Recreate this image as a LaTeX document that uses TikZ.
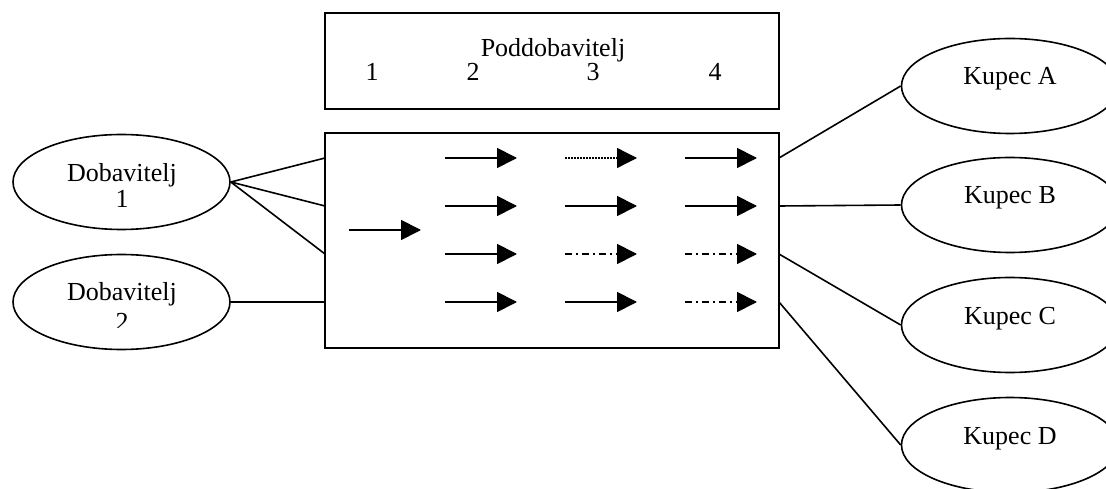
\documentclass[tikz,border=0pt]{standalone}
\usepackage{fontspec}
\setmainfont{Liberation Serif}
\usetikzlibrary{arrows.meta,shapes.geometric}
\begin{document}
\begin{tikzpicture}[x=1pt,y=-1pt,
  every node/.style={font=\fontsize{26}{26}\selectfont},
  party/.style={draw,ellipse,line width=1.6pt,minimum width=217pt,minimum height=95pt,inner sep=0pt},
  panel/.style={draw,line width=1.8pt,inner sep=0pt},
  word/.style={anchor=base,inner sep=0pt},
  link/.style={line width=1.6pt},
  flow/.style={line width=1.8pt,-{Triangle[length=20pt,width=20pt]}},
  dotflow/.style={flow,line width=1.3pt,dash pattern=on 1.5pt off 1.5pt},
  dashdotflow/.style={flow,dash pattern=on 7pt off 4pt on 2pt off 4pt}]
\useasboundingbox (0,0) rectangle (1106,489);
\clip (0,0) rectangle (1106,489);

% subcontractor header and stage panel
\node[panel,minimum width=454pt,minimum height=96pt] (head) at (552,61) {};
\node[word] (headt) at (553,57) {Poddobavitelj};
\node[word] (n1) at (372,81) {1};
\node[word] (n2) at (473,81) {2};
\node[word] (n3) at (593,81) {3};
\node[word] (n4) at (715,81) {4};
\node[panel,minimum width=454pt,minimum height=215pt] (stage) at (552,240.5) {};

% suppliers
\node[party] (d1) at (121.5,182) {};
\node[word] (d1a) at (122,182) {Dobavitelj};
\node[word] (d1b) at (122,208) {1};
\node[party] (d2) at (121.5,302) {};
\node[word] (d2a) at (122,301) {Dobavitelj};
\begin{scope}
  \clip (0,0) rectangle (1106,327.5);
  \node[word] (d2b) at (122,330) {2};
\end{scope}

% customers
\foreach \k/\yc in {A/86,B/205,C/325,D/445}{
  \node[party] (k\k) at (1010,\yc) {};
  \node[word] (k\k t) at (1010,\yc-1) {Kupec \k};
}

% contact points on the stage panel
\foreach \r/\yy in {1/158,2/206,3/254,4/302}{
  \coordinate (in\r) at (325,\yy);
  \coordinate (out\r) at (779,\yy);
}

% links from suppliers
\draw[link] (d1.east) -- (in1);
\draw[link] (d1.east) -- (in2);
\draw[link] (d1.east) -- (in3);
\draw[link] (d2.east) -- (in4);

% links to customers
\draw[link] (out1) -- (kA.west);
\draw[link] (out2) -- (kB.west);
\draw[link] (out3) -- (kC.west);
\draw[link] (out4) -- (kD.west);

% flows inside the stage panel
\coordinate (s0) at (349,230);
\coordinate (t0) at (421,230);
\draw[flow] (s0) -- (t0);
\foreach \c/\r/\s in {2/1/flow,2/2/flow,2/3/flow,2/4/flow,
                      3/1/dotflow,3/2/flow,3/3/dashdotflow,3/4/flow,
                      4/1/flow,4/2/flow,4/3/dashdotflow,4/4/dashdotflow}{
  \coordinate (s\c\r) at ({445+120*(\c-2)},{158+48*(\r-1)});
  \coordinate (t\c\r) at ({517+120*(\c-2)},{158+48*(\r-1)});
  \draw[\s] (s\c\r) -- (t\c\r);
}
\end{tikzpicture}
\end{document}
